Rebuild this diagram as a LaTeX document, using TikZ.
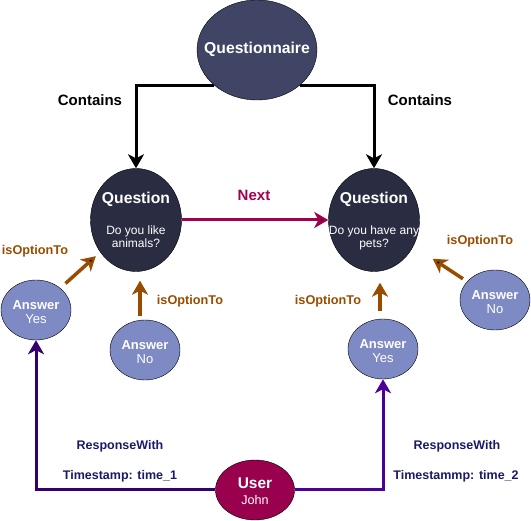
\documentclass[tikz,border=0pt]{standalone}
\usepackage{fontspec}
\setmainfont{Liberation Sans}
\usetikzlibrary{shapes.geometric,arrows.meta,positioning}
\definecolor{qsfill}{HTML}{404566}
\definecolor{qfill}{HTML}{2A2D42}
\definecolor{afill}{HTML}{7E8AC4}
\definecolor{ufill}{HTML}{99004D}
\definecolor{nextcol}{HTML}{A10050}
\definecolor{optcol}{HTML}{994C00}
\definecolor{respa}{HTML}{35006E}
\definecolor{respb}{HTML}{4C0099}
\definecolor{resptext}{HTML}{1A1A66}
\newcommand{\nodelines}[2][0pt]{\makebox[0pt]{\begin{tabular}{@{}c@{}}\rule{0pt}{#1}#2\end{tabular}}}

\begin{document}
\begin{tikzpicture}[x=1pt,y=-1pt]
\tikzstyle{qnaire}=[ellipse,draw=black,fill=qsfill,text=white,
inner sep=0pt,minimum width=120pt,minimum height=100pt,
font=\bfseries\fontsize{15.7}{18}\selectfont]
\tikzstyle{question}=[ellipse,draw=black,fill=qfill,text=white,
inner sep=0pt,minimum width=91pt,minimum height=103pt,
font=\fontsize{12}{13}\selectfont]
\tikzstyle{answer}=[ellipse,draw=black,fill=afill,text=white,
inner sep=0pt,minimum width=70pt,minimum height=60pt,
font=\fontsize{13}{14}\selectfont]
\tikzstyle{user}=[ellipse,draw=black,fill=ufill,text=white,
inner sep=0pt,minimum width=79pt,minimum height=60pt,
font=\fontsize{12.6}{16}\selectfont]
\tikzstyle{tip}=[-{Stealth[length=14pt,width=16pt,inset=4pt]}]
\tikzstyle{contains}=[tip,draw=black,line width=3pt]
\tikzstyle{nextarrow}=[tip,draw=nextcol,line width=3pt]
\tikzstyle{option}=[tip,draw=optcol,line width=3.5pt]
\tikzstyle{lbl}=[inner sep=0pt,font=\bfseries\fontsize{15}{18}\selectfont]
\tikzstyle{optlbl}=[inner sep=0pt,text=optcol,font=\bfseries\fontsize{12.7}{15}\selectfont]
\tikzstyle{resplbl}=[inner sep=0pt,text=resptext,font=\bfseries\fontsize{12.5}{15}\selectfont]

\useasboundingbox (0,0) rectangle (531,521);

\node[qnaire] at (257,50) (qs) {\nodelines{Questionnaire}};
\node[question] at (136,220) (q1) {\nodelines[15pt]{{\fontsize{15.7}{18}\selectfont\bfseries Question}\\[18pt]Do you like\\animals?}};
\node[question,right of=q1,node distance=238pt] (q2) {\nodelines[15pt]{{\fontsize{15.7}{18}\selectfont\bfseries Question}\\[18pt]Do you have any\\pets?}};
\node[answer] at (36,310) (y1) {\nodelines[17pt]{\bfseries Answer\\Yes}};
\node[answer,below of=q1,node distance=130pt,xshift=9pt] (n1) {\nodelines[17pt]{\bfseries Answer\\No}};
\node[answer,below of=q2,node distance=129pt,xshift=9pt] (y2) {\nodelines[17pt]{\bfseries Answer\\Yes}};
\node[answer] at (495,300) (n2) {\nodelines[17pt]{\bfseries Answer\\No}};
\node[user] at (255,490) (u) {\nodelines[18pt]{{\fontsize{15.5}{17}\selectfont\bfseries User}\\John}};

% labels
\node[lbl] at (90,100) (c1) {Contains};
\node[lbl] at (420,100) (c2) {Contains};
\node[lbl,text=nextcol] at (254,195) (nx) {Next};
\node[optlbl] at (35,251) (o1) {isOptionTo};
\node[optlbl] at (190,301) (o2) {isOptionTo};
\node[optlbl] at (328,301) (o3) {isOptionTo};
\node[optlbl] at (480,241) (o4) {isOptionTo};
\node[resplbl] at (120,446) (r1) {ResponseWith};
\node[resplbl] at (120,476) (t1) {Timestamp: time\_1};
\node[resplbl] at (457,446) (r2) {ResponseWith};
\node[resplbl] at (456,476) (t2) {Timestammp: time\_2};

\draw[contains] (qs.south west) -| (q1);
\draw[contains] (qs.south east) -| (q2);
\path[nextarrow] (q1) edge (q2);
\path[option,shorten <=7pt,shorten >=6pt] (y1) edge (q1);
\draw[option,shorten <=4pt,shorten >=9pt] ([xshift=-5pt]n1.north) -- ([xshift=4pt]q1.south);
\draw[option,shorten <=8pt,shorten >=11pt] ([xshift=-3pt]y2.north) -- ([xshift=6pt]q2.south);
\path[option,shorten <=5pt,shorten >=23pt] (n2) edge (q2);
\draw[tip,draw=respa,line width=3pt] (u) -| (y1);
\draw[tip,draw=respb,line width=3pt] (u) -| (y2);

\end{tikzpicture}
\end{document}
